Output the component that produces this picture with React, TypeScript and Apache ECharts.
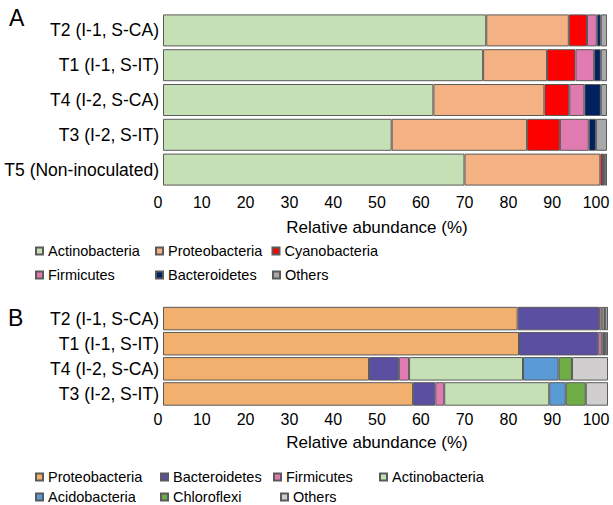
import React, { useEffect, useRef } from "react";
import * as echarts from "echarts";

// Panel A (top): categories and series
const categoriesA = ["T2 (I-1, S-CA)", "T1 (I-1, S-IT)", "T4 (I-2, S-CA)", "T3 (I-2, S-IT)", "T5 (Non-inoculated)"];
const phylaA = ["Actinobacteria", "Proteobacteria", "Cyanobacteria", "Firmicutes", "Bacteroidetes", "Others"];
const actinoA = [72.8, 72.1, 60.9, 51.5, 67.9];
const proteoA = [18.6, 14.4, 25.0, 30.5, 30.6];
const cyanoA = [4.1, 6.4, 5.6, 7.4, 0.6];
const firmA = [2.2, 4.2, 3.4, 6.5, 0.1];
const bacteroA = [0.9, 1.5, 3.7, 1.6, 0.3];
const othersA = [1.4, 1.4, 1.4, 2.5, 0.5];
const colorsA = ["#C5E0B4", "#F4B183", "#FF0000", "#DF7BB1", "#002060", "#A9A9A9"];

// Panel B (bottom)
const categoriesB = ["T2 (I-1, S-CA)", "T1 (I-1, S-IT)", "T4 (I-2, S-CA)", "T3 (I-2, S-IT)"];
const phylaB = ["Proteobacteria", "Bacteroidetes", "Firmicutes", "Actinobacteria", "Acidobacteria", "Chloroflexi", "Others"];
const proteoB = [79.7, 80.0, 46.3, 56.2];
const bacteroB = [18.3, 17.8, 6.7, 5.0];
const firmB = [0.6, 0.8, 2.3, 2.0];
const actinoB = [0.6, 0.5, 25.6, 23.6];
const acidoB = [0.1, 0.1, 8.0, 3.7];
const chloroB = [0.1, 0.3, 3.0, 4.5];
const othersB = [0.6, 0.5, 8.1, 5.0];
const colorsB = ["#F2B06E", "#5B4FA1", "#DF7BB1", "#C5E0B4", "#5B9BD5", "#70AD47", "#D0CECE"];

const xTicks = [0, 100, 10]; // min, max, interval
const axisTitle = "Relative abundance (%)";

const FONT = "'Liberation Sans', Arial, Helvetica, sans-serif";

export default function App() {
  const ref = useRef<HTMLDivElement>(null);
  useEffect(() => {
    if (!ref.current) return;
    const chart = echarts.init(ref.current, undefined, { renderer: "svg" });
    const valuesA = [actinoA, proteoA, cyanoA, firmA, bacteroA, othersA];
    const valuesB = [proteoB, bacteroB, firmB, actinoB, acidoB, chloroB, othersB];

    const seriesA = phylaA.map((name, i) => ({
      name: "A:" + name,
      type: "bar",
      stack: "a",
      xAxisIndex: 0,
      yAxisIndex: 0,
      barWidth: 32,
      data: valuesA[i],
      itemStyle: { color: colorsA[i], borderColor: "#5a5a5a", borderWidth: 1 },
    }));
    const seriesB = phylaB.map((name, i) => ({
      name: "B:" + name,
      type: "bar",
      stack: "b",
      xAxisIndex: 1,
      yAxisIndex: 1,
      barWidth: 23.5,
      data: valuesB[i],
      itemStyle: { color: colorsB[i], borderColor: "#5a5a5a", borderWidth: 1 },
    }));

    const gridA = { top: 13, height: 174 };
    const gridB = { top: 306, height: 100.5 };

    const hiddenValueX = (gridIndex: number) => ({
      type: "value",
      gridIndex,
      min: xTicks[0],
      max: xTicks[1],
      interval: xTicks[2],
      axisLine: { show: false },
      axisTick: { show: false },
      axisLabel: { show: false },
      splitLine: { show: false },
    });
    const labelX = (gridIndex: number, margin: number, gap: number) => ({
      type: "value",
      gridIndex,
      min: xTicks[0],
      max: xTicks[1],
      interval: xTicks[2],
      axisLine: { show: false },
      axisTick: { show: false },
      splitLine: { show: false },
      axisLabel: { show: true, fontSize: 16, color: "#000", fontFamily: FONT, margin },
      name: axisTitle,
      nameLocation: "middle",
      nameGap: gap,
      nameTextStyle: { fontSize: 17, color: "#000", fontFamily: FONT },
    });
    const catY = (gridIndex: number, data: string[]) => ({
      type: "category",
      gridIndex,
      data,
      inverse: true,
      axisLine: { show: false },
      axisTick: { show: false },
      axisLabel: { fontSize: 17.5, color: "#000", fontFamily: FONT, margin: 4 },
    });
    const hiddenY = (gridIndex: number) => ({ type: "value", gridIndex, show: false, min: 0, max: 1 });

    const legendItem = (name: string, left: number, top: number) => ({
      data: [name],
      left,
      top,
      padding: 0,
      icon: "rect",
      itemWidth: 7,
      itemHeight: 7,
      selectedMode: false,
      textStyle: { fontSize: 14.5, color: "#000", fontFamily: FONT },
      formatter: (n: string) => n.slice(2),
    });

    const legendPosA: [number, number][] = [
      [35, 243.5], [155, 243.5], [271.5, 243.5],
      [35, 267.5], [155, 267.5], [272, 267.5],
    ];
    const legendPosB: [number, number][] = [
      [35, 469.5], [160, 469.5], [273, 469.5], [379, 469.5],
      [35, 489.5], [160, 489.5], [280, 489.5],
    ];

    chart.setOption({
      animation: false,
      backgroundColor: "#fff",
      grid: [
        { left: 163, right: 6, ...gridA },
        { left: 163, right: 5, ...gridB },
        { left: 158, right: 17, ...gridA },
        { left: 158, right: 17, ...gridB },
      ],
      xAxis: [hiddenValueX(0), hiddenValueX(1), labelX(2, 7, 31.5), labelX(3, 5, 27)],
      yAxis: [catY(0, categoriesA), catY(1, categoriesB), hiddenY(2), hiddenY(3)],
      legend: [
        ...phylaA.map((n, i) => legendItem("A:" + n, legendPosA[i][0], legendPosA[i][1])),
        ...phylaB.map((n, i) => legendItem("B:" + n, legendPosB[i][0], legendPosB[i][1])),
      ],
      graphic: [
        { type: "text", left: 9, top: 6, style: { text: "A", fontSize: 23, fill: "#000", fontFamily: FONT } },
        { type: "text", left: 8, top: 306, style: { text: "B", fontSize: 23, fill: "#000", fontFamily: FONT } },
      ],
      series: [...seriesA, ...seriesB],
    });
    return () => chart.dispose();
  }, []);
  return <div ref={ref} style={{ position: "absolute", left: 0, top: 0, width: 613, height: 505 }} />;
}
